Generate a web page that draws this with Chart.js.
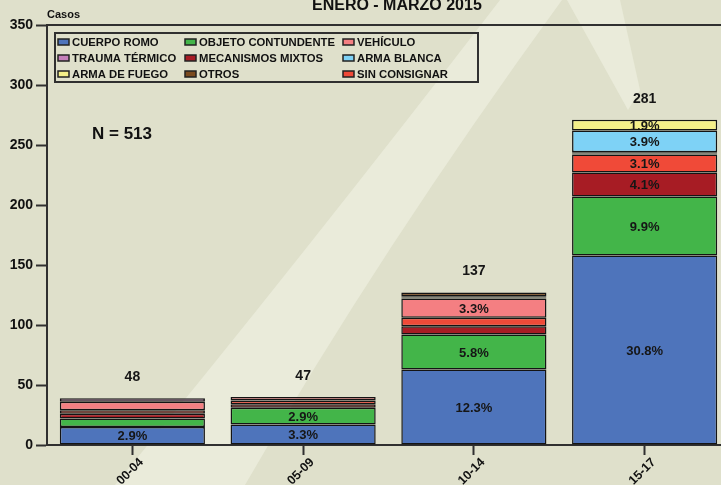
<!DOCTYPE html>
<html>
<head>
<meta charset="utf-8">
<script src="https://cdn.jsdelivr.net/npm/chart.js@4.4.1/dist/chart.umd.min.js"></script>
<style>
  html, body { margin: 0; padding: 0; overflow: hidden; background: #dfe0cb; }
  #wrap { width: 721px; height: 485px; overflow: hidden; position: relative; }
  #wrap canvas { position: absolute; left: 0; top: 0; }
</style>
</head>
<body>
<div id="wrap"><canvas id="chart" width="730" height="485"></canvas></div>
<script>
const categories = ['00-04', '05-09', '10-14', '15-17'];

// casos por causa (stack order bottom -> top)
const cuerpoRomo = [15, 17, 63, 158];
const objetoContundente = [7, 14, 29, 49];
const mecanismosMixtos = [4, 3, 7, 20];
const sinConsignar = [3, 3, 7, 15];
const vehiculo = [7, 3, 16, 1];
const traumaTermico = [3, 0, 1, 1];
const armaBlanca = [0, 0, 1, 18];
const armaFuego = [0, 0, 0, 9];
const otros = [0, 0, 3, 0];

// percentages printed inside the segments
const pctCuerpoRomo = ['2.9%', '3.3%', '12.3%', '30.8%'];
const pctObjeto = [null, '2.9%', '5.8%', '9.9%'];
const pctMixtos = [null, null, null, '4.1%'];
const pctSinConsignar = [null, null, null, '3.1%'];
const pctVehiculo = [null, null, '3.3%', null];
const pctArmaBlanca = [null, null, null, '3.9%'];
const pctArmaFuego = [null, null, null, '1.9%'];

const totals = [48, 47, 137, 281];
const yTicks = [0, 50, 100, 150, 200, 250, 300, 350];

const colors = {
  cuerpo: '#4e74bb',
  objeto: '#43b549',
  vehiculo: '#f47f82',
  trauma: '#c47fba',
  mixtos: '#a71c24',
  blanca: '#7ed2f6',
  fuego: '#f4ef89',
  otros: '#7a4a1f',
  sin: '#f04a38'
};

const datasets = [
  { label: 'CUERPO ROMO', data: cuerpoRomo, backgroundColor: colors.cuerpo, pct: pctCuerpoRomo },
  { label: 'OBJETO CONTUNDENTE', data: objetoContundente, backgroundColor: colors.objeto, pct: pctObjeto },
  { label: 'MECANISMOS MIXTOS', data: mecanismosMixtos, backgroundColor: colors.mixtos, pct: pctMixtos },
  { label: 'SIN CONSIGNAR', data: sinConsignar, backgroundColor: colors.sin, pct: pctSinConsignar },
  { label: 'VEHÍCULO', data: vehiculo, backgroundColor: colors.vehiculo, pct: pctVehiculo },
  { label: 'TRAUMA TÉRMICO', data: traumaTermico, backgroundColor: colors.trauma },
  { label: 'ARMA BLANCA', data: armaBlanca, backgroundColor: colors.blanca, pct: pctArmaBlanca },
  { label: 'ARMA DE FUEGO', data: armaFuego, backgroundColor: colors.fuego, pct: pctArmaFuego },
  { label: 'OTROS', data: otros, backgroundColor: colors.otros }
].map((d) => ({
  ...d,
  borderColor: '#141414',
  borderWidth: 1.5,
  borderSkipped: false,
  inflateAmount: 0,
  barPercentage: 0.85,
  categoryPercentage: 1
}));

// legend grid, row by row as in the original
const legendOrder = [
  'CUERPO ROMO', 'OBJETO CONTUNDENTE', 'VEHÍCULO',
  'TRAUMA TÉRMICO', 'MECANISMOS MIXTOS', 'ARMA BLANCA',
  'ARMA DE FUEGO', 'OTROS', 'SIN CONSIGNAR'
];

const FONT = '"Liberation Sans", Arial, sans-serif';
const AXIS = '#303030';

const backdrop = {
  id: 'backdrop',
  beforeDraw(chart) {
    const { ctx, width, height } = chart;
    ctx.save();
    ctx.fillStyle = '#dfe0cb';
    ctx.fillRect(0, 0, width, height);
    ctx.fillStyle = '#eaebda';
    // main swoosh rising from bottom-left
    ctx.beginPath();
    ctx.moveTo(115, 485);
    ctx.quadraticCurveTo(300, 260, 500, 0);
    ctx.lineTo(562, 0);
    ctx.quadraticCurveTo(380, 250, 245, 485);
    ctx.closePath();
    ctx.fill();
    // small tip at the top right
    ctx.beginPath();
    ctx.moveTo(567, 0);
    ctx.lineTo(620, 0);
    ctx.lineTo(640, 90);
    ctx.lineTo(628, 110);
    ctx.closePath();
    ctx.fill();
    ctx.restore();
  }
};

const decorations = {
  id: 'decorations',
  afterDatasetsDraw(chart) {
    const { ctx, scales } = chart;
    ctx.save();
    ctx.textAlign = 'center';
    ctx.textBaseline = 'middle';
    ctx.fillStyle = '#161616';
    ctx.font = 'bold 13px ' + FONT;
    chart.data.datasets.forEach((ds, i) => {
      if (!ds.pct) return;
      chart.getDatasetMeta(i).data.forEach((bar, j) => {
        const txt = ds.pct[j];
        if (!txt) return;
        ctx.fillText(txt, bar.x, (bar.y + bar.base) / 2 + 1);
      });
    });
    // totals above each stack
    ctx.font = 'bold 14px ' + FONT;
    categories.forEach((c, j) => {
      const sum = chart.data.datasets.reduce((s, ds) => s + ds.data[j], 0);
      const x = chart.getDatasetMeta(0).data[j].x;
      ctx.fillText(String(totals[j]), x, scales.y.getPixelForValue(sum) - 21);
    });
    ctx.restore();
  },
  afterDraw(chart) {
    const { ctx, chartArea } = chart;
    ctx.save();
    // top frame line
    ctx.strokeStyle = AXIS;
    ctx.lineWidth = 2;
    ctx.beginPath();
    ctx.moveTo(chartArea.left, chartArea.top);
    ctx.lineTo(chart.width, chartArea.top);
    ctx.stroke();

    ctx.fillStyle = '#111';
    ctx.textBaseline = 'alphabetic';
    ctx.textAlign = 'left';
    ctx.font = 'bold 16px ' + FONT;
    ctx.fillText('ENERO - MARZO 2015', 312, 10);
    ctx.font = 'bold 11px ' + FONT;
    ctx.fillText('Casos', 47, 18);
    ctx.font = 'bold 17px ' + FONT;
    ctx.fillText('N = 513', 92, 139);

    // legend box
    ctx.lineWidth = 2;
    ctx.strokeStyle = AXIS;
    ctx.strokeRect(55, 33, 423, 49);
    const colX = [58, 185, 343];
    const rowY = [42, 58, 74];
    ctx.font = 'bold 11.3px ' + FONT;
    ctx.textBaseline = 'middle';
    legendOrder.forEach((name, k) => {
      const ds = chart.data.datasets.find((d) => d.label === name);
      const x = colX[k % 3];
      const y = rowY[Math.floor(k / 3)];
      ctx.fillStyle = ds.backgroundColor;
      ctx.fillRect(x, y - 3, 11, 6);
      ctx.lineWidth = 1.5;
      ctx.strokeStyle = '#222';
      ctx.strokeRect(x, y - 3, 11, 6);
      ctx.fillStyle = '#111';
      ctx.fillText(name, x + 14, y + 1);
    });
    ctx.restore();
  }
};

new Chart(document.getElementById('chart'), {
  type: 'bar',
  data: { labels: categories, datasets },
  plugins: [backdrop, decorations],
  options: {
    responsive: false,
    animation: false,
    layout: { padding: { top: 25, left: 0, right: 0, bottom: 0 } },
    plugins: { legend: { display: false }, tooltip: { enabled: false } },
    scales: {
      x: {
        stacked: true,
        offset: true,
        afterFit: (s) => { s.height = 40; },
        grid: {
          display: true,
          offset: false,
          drawOnChartArea: false,
          drawTicks: true,
          tickLength: 10,
          tickWidth: 2,
          tickColor: AXIS
        },
        border: { display: true, color: AXIS, width: 2 },
        ticks: {
          color: '#111',
          font: { family: FONT, size: 12.5, weight: 'bold' },
          minRotation: 45,
          maxRotation: 45,
          labelOffset: 9,
          padding: 0
        }
      },
      y: {
        stacked: true,
        min: 0,
        max: 350,
        afterFit: (s) => { s.width = 47; },
        afterBuildTicks: (s) => { s.ticks = yTicks.map((v) => ({ value: v })); },
        grid: {
          display: true,
          drawOnChartArea: false,
          drawTicks: true,
          tickLength: 11,
          tickWidth: 2,
          tickColor: AXIS
        },
        border: { display: true, color: AXIS, width: 2 },
        ticks: {
          color: '#111',
          font: { family: FONT, size: 14, weight: 'bold' },
          padding: 3
        }
      }
    }
  }
});
</script>
</body>
</html>
